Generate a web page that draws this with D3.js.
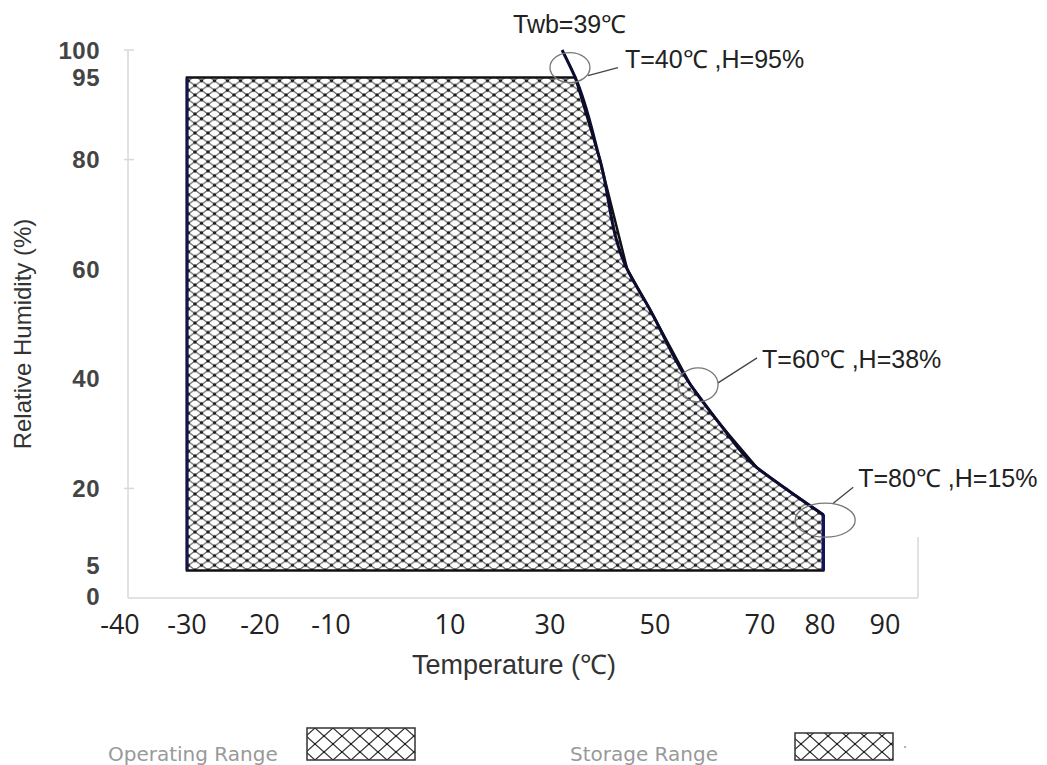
<!DOCTYPE html>
<html>
<head>
<meta charset="utf-8">
<script src="https://cdn.jsdelivr.net/npm/d3@7"></script>
<style>
  body { margin: 0; background: #fff; }
  svg { display: block; }
</style>
</head>
<body>
<div id="chart"></div>
<script>
/**
 * Data
 */
const xTicks = [-40, -30, -20, -10, 10, 30, 50, 70, 80, 90];
const yTicks = [0, 5, 20, 40, 60, 80, 95, 100];

// operating / storage box
const rangeTemp = [-30, 80.5];
const rangeHum = [5, 95];

// Twb = 39 boundary curve (T, H)
const curveTemp = [32.3, 34.8, 39.5, 44.7, 49, 56.7, 62.4, 69.4, 75, 80.5];
const curveHum = [100, 95, 80, 60, 52.7, 39, 31.7, 23.8, 19.4, 15.2];

// annotations
const noteLabels = ['T=40℃ ,H=95%', 'T=60℃ ,H=38%', 'T=80℃ ,H=15%'];
const noteTemp = [33.8, 58.2, 80.8];
const noteHum = [96.8, 38.9, 14.2];

const legendLabels = ['Operating Range', 'Storage Range'];

/**
 * Basic Settings
 */
const width = 1047;
const height = 765;
// the tick labels sit at uneven spots, so the x scale is piecewise
const xLabelPx = [120, 187, 260, 331, 450, 550, 655, 760, 820, 885];

const x = d3.scaleLinear().domain(xTicks).range(xLabelPx);
const y = d3.scaleLinear().domain([0, 100]).range([598, 50]);

const svg = d3.select('#chart')
  .append('svg')
  .attr('width', width)
  .attr('height', height);

const defs = svg.append('defs');

function addHatch(id, w, h, sw, r, col) {
  const p = defs.append('pattern')
    .attr('id', id)
    .attr('patternUnits', 'userSpaceOnUse')
    .attr('width', w)
    .attr('height', h);
  p.append('rect').attr('width', w).attr('height', h).attr('fill', '#fff');
  p.append('path')
    .attr('d', `M0,0L${w},${h}M0,${h}L${w},0`)
    .attr('stroke', col)
    .attr('stroke-width', sw);
  [[0, 0], [w, 0], [0, h], [w, h], [w / 2, h / 2]].forEach(function(c) {
    p.append('circle').attr('cx', c[0]).attr('cy', c[1]).attr('r', r).attr('fill', '#1a1a1a');
  });
}
addHatch('hatch', 13, 9.5, 1.3, 1.7, '#666');
addHatch('hatchBig', 18, 16, 1.3, 1.1, '#333');

/**
 * Axes (light gray frame)
 */
const axisColor = '#d9d9d9';
svg.append('line')
  .attr('x1', 128).attr('x2', 128)
  .attr('y1', y(100)).attr('y2', y(0))
  .attr('stroke', axisColor).attr('stroke-width', 1.5);
svg.append('line')
  .attr('x1', 128).attr('x2', 918)
  .attr('y1', y(0)).attr('y2', y(0))
  .attr('stroke', axisColor).attr('stroke-width', 1.5);
svg.append('line')
  .attr('x1', 918).attr('x2', 918)
  .attr('y1', 537).attr('y2', y(0))
  .attr('stroke', axisColor).attr('stroke-width', 1.5);

// y ticks
svg.selectAll('line.ytick')
  .data([20, 80, 100])
  .join('line')
  .attr('class', 'ytick')
  .attr('x1', 124).attr('x2', 134)
  .attr('y1', d => y(d)).attr('y2', d => y(d))
  .attr('stroke', axisColor).attr('stroke-width', 1.5);

svg.selectAll('text.ylab')
  .data(yTicks)
  .join('text')
  .attr('class', 'ylab')
  .attr('x', 100)
  .attr('y', d => y(d) + (d === 0 ? 7 : d === 5 ? 3 : 8.5))
  .attr('text-anchor', 'end')
  .style('font-family', 'Liberation Sans, Arial, sans-serif')
  .style('font-weight', 'bold')
  .style('font-size', '24px')
  .style('letter-spacing', '0.5px')
  .style('fill', '#444')
  .text(d => d);

svg.selectAll('text.xlab')
  .data(xTicks)
  .join('text')
  .attr('class', 'xlab')
  .attr('x', d => x(d))
  .attr('y', 634)
  .attr('text-anchor', 'middle')
  .style('font-family', 'Open Sans, sans-serif')
  .style('font-size', '27px')
  .style('fill', '#222')
  .text(d => d);

// axis titles
svg.append('text')
  .attr('transform', 'translate(31,334) rotate(-90)')
  .attr('text-anchor', 'middle')
  .style('font-family', 'Liberation Sans, Arial, sans-serif')
  .style('font-size', '24px')
  .style('fill', '#333')
  .text('Relative Humidity (%)');

svg.append('text')
  .attr('x', 514)
  .attr('y', 674)
  .attr('text-anchor', 'middle')
  .style('font-family', 'Liberation Sans, Arial, sans-serif')
  .style('font-size', '27px')
  .style('fill', '#333')
  .text('Temperature (℃)');

/**
 * Range area
 */
const curvePts = curveTemp.map((t, i) => [t, curveHum[i]]).filter(p => p[1] <= rangeHum[1]);
const area = [[rangeTemp[0], rangeHum[0]], [rangeTemp[0], rangeHum[1]]]
  .concat(curvePts)
  .concat([[rangeTemp[1], rangeHum[0]]]);

const line = d3.line().x(d => x(d[0])).y(d => y(d[1]));

svg.append('path')
  .attr('d', line(area) + 'Z')
  .attr('fill', 'url(#hatch)')
  .attr('stroke', '#111')
  .attr('stroke-width', 2.5)
  .attr('stroke-linejoin', 'miter');

// left / right edges a bit navy
svg.append('path')
  .attr('d', line([[rangeTemp[0], rangeHum[0]], [rangeTemp[0], rangeHum[1]]]))
  .attr('stroke', '#14144a').attr('stroke-width', 3);
svg.append('path')
  .attr('d', line([[rangeTemp[1], curveHum[curveHum.length - 1]], [rangeTemp[1], rangeHum[0]]]))
  .attr('stroke', '#14145a').attr('stroke-width', 3.5);

// Twb line
svg.append('path')
  .attr('d', d3.line().x(d => x(d[0])).y(d => y(d[1])).curve(d3.curveMonotoneY)(curveTemp.map((t, i) => [t, curveHum[i]])))
  .attr('fill', 'none')
  .attr('stroke', '#0c0c30')
  .attr('stroke-width', 3);

/**
 * Annotations
 */
const noteFont = 'Liberation Sans, Arial, sans-serif';
svg.append('text')
  .attr('x', 513).attr('y', 33)
  .style('font-family', noteFont)
  .style('font-size', '25px')
  .style('fill', '#222')
  .text('Twb=39℃');

// leader start, leader end, text position (relative to circle centre)
const noteOff = [[18, 8, 48, 0, 55, 0], [20, -2, 59, -27, 64, -17], [8, -17, 28, -33, 33, -33]];
const noteR = [[20, 15], [20, 17], [30, 17]];

noteLabels.forEach(function(lbl, i) {
  const cx = x(noteTemp[i]);
  const cy = y(noteHum[i]);
  const o = noteOff[i];
  svg.append('ellipse')
    .attr('cx', cx).attr('cy', cy)
    .attr('rx', noteR[i][0]).attr('ry', noteR[i][1])
    .attr('fill', 'none').attr('stroke', '#777').attr('stroke-width', 1.3);
  svg.append('line')
    .attr('x1', cx + o[0]).attr('y1', cy + o[1])
    .attr('x2', cx + o[2]).attr('y2', cy + o[3])
    .attr('stroke', '#444').attr('stroke-width', 1.3);
  svg.append('text')
    .attr('x', cx + o[4])
    .attr('y', cy + o[5])
    .style('font-family', noteFont)
    .style('font-size', '25px')
    .style('fill', '#222')
    .text(lbl);
});

/**
 * Legend
 */
const legendX = [108, 570];
const legendBox = [[307, 728, 108, 32], [795, 733, 98, 27]];
legendLabels.forEach(function(lbl, i) {
  svg.append('text')
    .attr('x', legendX[i]).attr('y', 761)
    .style('font-family', 'DejaVu Sans, sans-serif')
    .style('font-size', '20px')
    .style('fill', '#999')
    .text(lbl);
  svg.append('rect')
    .attr('x', legendBox[i][0]).attr('y', legendBox[i][1])
    .attr('width', legendBox[i][2]).attr('height', legendBox[i][3])
    .attr('fill', 'url(#hatchBig)')
    .attr('stroke', '#333').attr('stroke-width', 1.5);
});
svg.append('circle').attr('cx', 905).attr('cy', 747).attr('r', 1).attr('fill', '#999');
</script>
</body>
</html>
